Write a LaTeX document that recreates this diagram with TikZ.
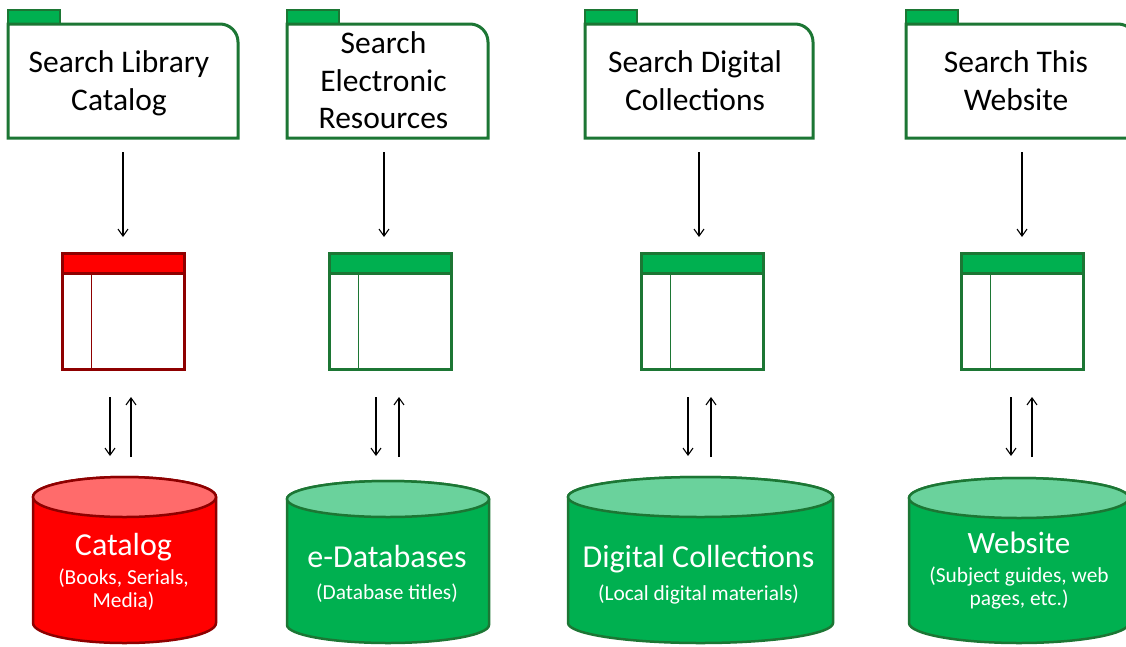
\documentclass[tikz,border=0pt]{standalone}
\usepackage{fontspec}
\setmainfont{Carlito}
\usetikzlibrary{arrows.meta,calc}
\definecolor{dkgreen}{HTML}{1C7634}
\definecolor{midgreen}{HTML}{00B050}
\definecolor{ltgreen}{HTML}{6AD29C}
\definecolor{dkred}{HTML}{8E0000}
\definecolor{brred}{HTML}{FF0000}
\definecolor{ltred}{HTML}{FF6B6B}
% cylinder drawing: #1 node, #2 x radius, #3 y radius, #4 colour prefix
\newcommand\drumshape[4]{%
  \draw[#4body] ($(#1.north west)+(0,#3)$) -- ($(#1.south west)+(0,-#3)$)
    arc[start angle=180,end angle=360,x radius=#2pt,y radius=#3pt]
    -- ($(#1.north east)+(0,#3)$)
    arc[start angle=0,end angle=180,x radius=#2pt,y radius=#3pt] -- cycle;
  \draw[#4top] ($(#1.north)+(0,#3)$) ellipse[x radius=#2pt,y radius=#3pt];}
% window parts: #1 node, #2 border colour, #3 header colour
\newcommand\winparts[3]{%
  \draw[draw=#2,line width=3pt,fill=#3] (#1.north west) rectangle ($(#1.north east)+(0,20)$);
  \draw[draw=#2,line width=1pt] ($(#1.north west)+(29,20)$) -- ($(#1.south west)+(29,0)$);}
% folder parts: #1 node
\newcommand\folderparts[1]{%
  \draw[tabline] (#1.north west) rectangle ($(#1.north west)+(52,-14)$);
  \draw[folderline] (#1.south west) -- (#1.north west) -- ($(#1.north east)+(-18,0)$)
    arc[start angle=90,end angle=0,radius=18pt] -- (#1.south east) -- cycle;}
\begin{document}
\begin{tikzpicture}[x=1pt,y=-1pt,
  frame/.style={draw=none,inner sep=0pt,outer sep=0pt},
  folderline/.style={draw=dkgreen,line width=3pt,fill=white},
  tabline/.style={draw=dkgreen,line width=2.5pt,fill=midgreen},
  foldertext/.style={anchor=base,align=center,inner sep=0pt,text=black,
    font=\fontsize{31.5}{37.5}\selectfont},
  winbox/.style={line width=3pt,fill=white,minimum width=122pt,
    minimum height=116pt,inner sep=0pt,outer sep=0pt},
  winred/.style={winbox,draw=dkred},
  wingreen/.style={winbox,draw=dkgreen},
  redbody/.style={draw=dkred,line width=2.5pt,fill=brred},
  redtop/.style={draw=dkred,line width=2.5pt,fill=ltred},
  greenbody/.style={draw=dkgreen,line width=2.5pt,fill=midgreen},
  greentop/.style={draw=dkgreen,line width=2.5pt,fill=ltgreen},
  maintext/.style={anchor=base,inner sep=0pt,text=white,font=\fontsize{32}{38}\selectfont},
  subtext/.style={anchor=base,align=center,inner sep=0pt,text=white,
    font=\fontsize{21.4}{23}\selectfont},
  arr/.style={-{Straight Barb[length=7pt,width=10pt]},line width=1.1pt,black}]
\useasboundingbox (0,0) rectangle (1126,646);
\clip (0,0) rectangle (1126,646);

% ---------- folders ----------
\node[frame,minimum width=230pt,minimum height=114pt] (f1) at (123,81) {};
\node[frame,minimum width=201pt,minimum height=114pt] (f2) at (387.5,81) {};
\node[frame,minimum width=228pt,minimum height=114pt] (f3) at (699,81) {};
\node[frame,minimum width=230pt,minimum height=114pt] (f4) at (1021,81) {};
\folderparts{f1}
\folderparts{f2}
\folderparts{f3}
\folderparts{f4}
% (anchor=base of a multi-line node = baseline of its last line)
\node[foldertext] (f1t) at (119,110) {Search Library\\Catalog};
\node[foldertext] (f2t) at (383.5,128.5) {Search\\Electronic\\Resources};
\node[foldertext] (f3t) at (695,110) {Search Digital\\Collections};
\node[foldertext] (f4t) at (1016,110) {Search This\\Website};

% ---------- windows ----------
\node[winred] (w1) at (123,311) {};
\node[wingreen] (w2) at (390.5,311) {};
\node[wingreen] (w3) at (702,311) {};
\node[wingreen] (w4) at (1022.5,311) {};
\winparts{w1}{dkred}{brred}
\winparts{w2}{dkgreen}{midgreen}
\winparts{w3}{dkgreen}{midgreen}
\winparts{w4}{dkgreen}{midgreen}

% ---------- cylinders ----------
\node[frame,minimum width=183pt,minimum height=166pt] (c1) at (124.5,560) {};
\node[frame,minimum width=202pt,minimum height=162pt] (c2) at (388,562) {};
\node[frame,minimum width=265pt,minimum height=166pt] (c3) at (700.5,560) {};
\node[frame,minimum width=220pt,minimum height=165pt] (c4) at (1019,560.5) {};
\drumshape{c1}{91.5}{20}{red}
\drumshape{c2}{101}{18}{green}
\drumshape{c3}{132.5}{20}{green}
\drumshape{c4}{110}{20}{green}

\node[maintext] (c1a) at (123.5,555) {Catalog};
\node[subtext] (c1b) at (123.5,607) {(Books, Serials,\\Media)};
\node[maintext] (c2a) at (387,567) {e-Databases};
\node[subtext] (c2b) at (387,599) {(Database titles)};
\node[maintext] (c3a) at (698.5,567) {Digital Collections};
\node[subtext] (c3b) at (698.5,600) {(Local digital materials)};
\node[maintext,font=\fontsize{31}{36}\selectfont] (c4a) at (1019,553) {Website};
\node[subtext] (c4b) at (1019,605) {(Subject guides, web\\pages, etc.)};

% ---------- arrows folder -> window ----------
\draw[arr,shorten <=14pt,shorten >=16pt] (w1.north |- f1.south) -- (w1.north);
\draw[arr,shorten <=14pt,shorten >=16pt] ([xshift=-6.5pt]w2.north |- f2.south) -- ([xshift=-6.5pt]w2.north);
\draw[arr,shorten <=14pt,shorten >=16pt] ([xshift=-3pt]w3.north |- f3.south) -- ([xshift=-3pt]w3.north);
\draw[arr,shorten <=14pt,shorten >=16pt] ([xshift=-0.5pt]w4.north |- f4.south) -- ([xshift=-0.5pt]w4.north);

% ---------- arrows window <-> cylinder ----------
\draw[arr,shorten <=28pt,shorten >=21pt] ([xshift=-13pt]w1.south) -- ([xshift=-13pt]w1.south |- c1.north);
\draw[arr,shorten <=20pt,shorten >=28pt] ([xshift=8pt]w1.south |- c1.north) -- ([xshift=8pt]w1.south);
\draw[arr,shorten <=28pt,shorten >=25pt] ([xshift=-14.5pt]w2.south) -- ([xshift=-14.5pt]w2.south |- c2.north);
\draw[arr,shorten <=24pt,shorten >=28pt] ([xshift=8.5pt]w2.south |- c2.north) -- ([xshift=8.5pt]w2.south);
\draw[arr,shorten <=28pt,shorten >=21pt] ([xshift=-14pt]w3.south) -- ([xshift=-14pt]w3.south |- c3.north);
\draw[arr,shorten <=20pt,shorten >=28pt] ([xshift=9pt]w3.south |- c3.north) -- ([xshift=9pt]w3.south);
\draw[arr,shorten <=28pt,shorten >=22pt] ([xshift=-11.5pt]w4.south) -- ([xshift=-11.5pt]w4.south |- c4.north);
\draw[arr,shorten <=21pt,shorten >=28pt] ([xshift=9.5pt]w4.south |- c4.north) -- ([xshift=9.5pt]w4.south);
\end{tikzpicture}
\end{document}
